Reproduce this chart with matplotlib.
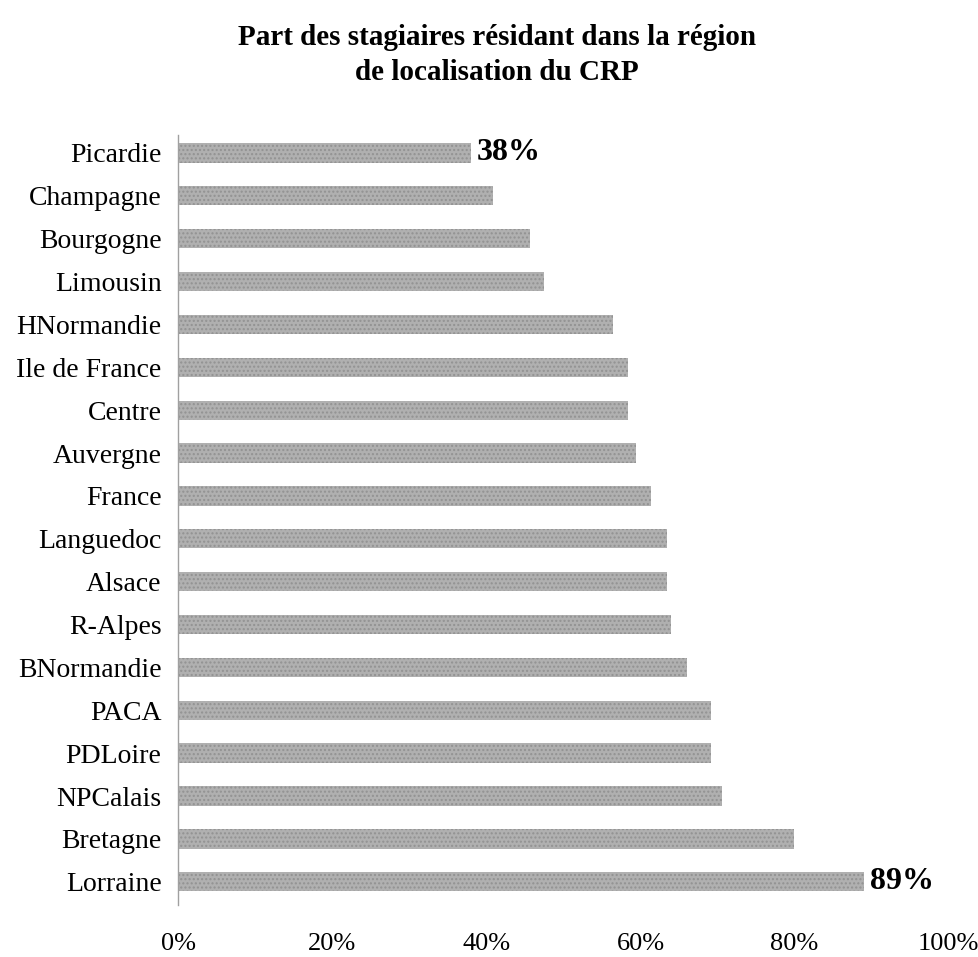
import matplotlib
matplotlib.use("Agg")
import matplotlib.pyplot as plt

# data, top to bottom as in the chart
regions = ["Picardie", "Champagne", "Bourgogne", "Limousin", "HNormandie",
           "Ile de France", "Centre", "Auvergne", "France", "Languedoc",
           "Alsace", "R-Alpes", "BNormandie", "PACA", "PDLoire",
           "NPCalais", "Bretagne", "Lorraine"]
share = [38, 40.8, 45.6, 47.5, 56.5,
         58.4, 58.4, 59.4, 61.4, 63.4,
         63.4, 64.0, 66.0, 69.1, 69.1,
         70.6, 79.9, 89]
xticks = [0, 20, 40, 60, 80, 100]
xtick_labels = ["0%", "20%", "40%", "60%", "80%", "100%"]
title = "Part des stagiaires résidant dans la région\nde localisation du CRP"

plt.rcParams["font.family"] = ["Liberation Serif", "DejaVu Serif"]

fig = plt.figure(figsize=(9.79, 9.57), dpi=100)
ax = fig.add_axes([0.182, 0.054, 0.787, 0.805])

# bottom bar first so the list reads top to bottom
labels_rev = regions[::-1]
vals_rev = share[::-1]
ypos = list(range(len(labels_rev)))

ax.barh(ypos, vals_rev, height=0.45, color="#b0b0b0", edgecolor="#929292",
        hatch="....", linewidth=0)

ax.set_xlim(0, 100)
ax.set_ylim(-0.55, len(labels_rev) - 0.58)
ax.set_yticks(ypos)
ax.set_yticklabels(labels_rev, fontsize=20)
ax.set_xticks(xticks)
ax.set_xticklabels(xtick_labels, fontsize=19)
ax.tick_params(axis="y", length=0, pad=12)
ax.tick_params(axis="x", length=0, pad=20)

for side in ["top", "right", "bottom"]:
    ax.spines[side].set_visible(False)
ax.spines["left"].set_color("#a0a0a0")
ax.spines["left"].set_linewidth(1.0)

# value labels on the extremes
ax.text(vals_rev[-1] + 0.8, ypos[-1], "%d%%" % vals_rev[-1], fontsize=23,
        fontweight="bold", va="center", ha="left")
ax.text(vals_rev[0] + 0.8, ypos[0], "%d%%" % vals_rev[0], fontsize=23,
        fontweight="bold", va="center", ha="left")

fig.text(0.508, 0.975, title, ha="center", va="top", fontsize=21,
         fontweight="bold", linespacing=1.4)

fig.savefig("out.png", dpi=100, facecolor="white")
